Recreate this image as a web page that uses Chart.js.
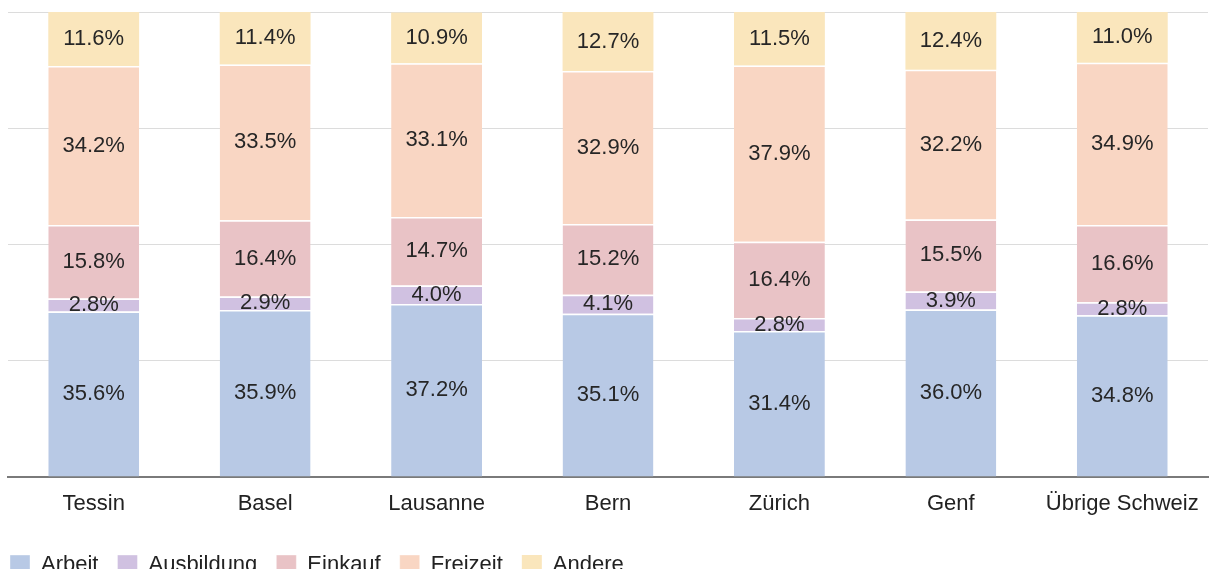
<!DOCTYPE html>
<html>
<head>
<meta charset="utf-8">
<script src="https://cdn.jsdelivr.net/npm/chart.js@4"></script>
<style>
  html, body { margin: 0; padding: 0; background: #fff; overflow: hidden; }
  #wrap { position: absolute; left: -9px; top: 0; width: 1223px; height: 586px; }
</style>
</head>
<body>
<div id="wrap"><canvas id="trip-chart" width="1223" height="586"></canvas></div>
<script>
const regions = ['Tessin', 'Basel', 'Lausanne', 'Bern', 'Zürich', 'Genf', 'Übrige Schweiz'];

const arbeit     = [35.6, 35.9, 37.2, 35.1, 31.4, 36.0, 34.8];
const ausbildung = [2.8, 2.9, 4.0, 4.1, 2.8, 3.9, 2.8];
const einkauf    = [15.8, 16.4, 14.7, 15.2, 16.4, 15.5, 16.6];
const freizeit   = [34.2, 33.5, 33.1, 32.9, 37.9, 32.2, 34.9];
const andere     = [11.6, 11.4, 10.9, 12.7, 11.5, 12.4, 11.0];

const yTicks = [0, 25, 50, 75, 100];

const FONT = '"Liberation Sans", Arial, sans-serif';

// prints the share in the middle of every stacked segment
const segmentLabels = {
    id: 'segmentLabels',
    afterDatasetsDraw(chart) {
        const ctx = chart.ctx;
        ctx.save();
        ctx.font = '22px ' + FONT;
        ctx.fillStyle = '#262626';
        ctx.textAlign = 'center';
        ctx.textBaseline = 'middle';
        chart.data.datasets.forEach((ds, i) => {
            const meta = chart.getDatasetMeta(i);
            meta.data.forEach((bar, j) => {
                const v = ds.data[j];
                ctx.fillText(v.toFixed(1) + '%', bar.x, (bar.y + bar.base) / 2);
            });
        });
        ctx.restore();
    }
};

// thin white seam on top of each segment, none on the topmost one
const makeSet = (label, data, color, seam = 1.5) => ({
    label: label,
    data: data,
    backgroundColor: color,
    borderColor: '#ffffff',
    borderWidth: { top: seam, left: 0, right: 0, bottom: 0 },
    borderSkipped: false,
    categoryPercentage: 1,
    barPercentage: 0.53
});

const ctx = document.getElementById('trip-chart').getContext('2d');

new Chart(ctx, {
    type: 'bar',
    data: {
        labels: regions,
        datasets: [
            makeSet('Arbeit', arbeit, '#b8c9e5'),
            makeSet('Ausbildung', ausbildung, '#d0c1e1'),
            makeSet('Einkauf', einkauf, '#e9c3c6'),
            makeSet('Freizeit', freizeit, '#f9d6c3'),
            makeSet('Andere', andere, '#fae6bc', 0)
        ]
    },
    options: {
        responsive: false,
        animation: false,
        layout: { padding: { top: 12, right: 6, bottom: 0, left: 0 } },
        plugins: {
            tooltip: { enabled: false },
            legend: {
                position: 'bottom',
                align: 'start',
                labels: {
                    boxWidth: 20,
                    boxHeight: 20,
                    padding: 19,
                    color: '#222',
                    font: { family: FONT, size: 22 }
                }
            }
        },
        scales: {
            x: {
                stacked: true,
                grid: { display: false, drawTicks: false },
                border: { display: true, color: '#7a7a7a', width: 2 },
                ticks: {
                    color: '#222',
                    padding: 14,
                    font: { family: FONT, size: 22 }
                },
                afterFit: (scale) => { scale.height = 58; }
            },
            y: {
                stacked: true,
                min: 0,
                max: 100,
                afterBuildTicks: (scale) => {
                    scale.ticks = yTicks.map(v => ({ value: v }));
                },
                grid: { color: '#dcdcdc', lineWidth: 1, drawTicks: false },
                border: { display: false },
                ticks: { display: false },
                afterFit: (scale) => { scale.width = 17; }
            }
        }
    },
    plugins: [segmentLabels]
});
</script>
</body>
</html>
